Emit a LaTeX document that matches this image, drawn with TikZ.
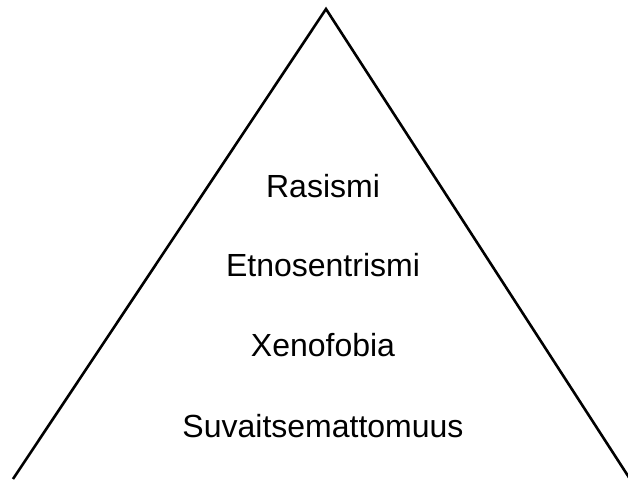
\documentclass[tikz,border=0pt]{standalone}
\usepackage{fontspec}
\setmainfont{Liberation Sans}
\tikzset{
  level/.style={anchor=base,font=\fontsize{32}{38}\selectfont,inner sep=0pt},
  side/.style={line width=2.6pt}
}
\begin{document}
\begin{tikzpicture}[x=1pt,y=-1pt]
  \useasboundingbox (0,0) rectangle (628,479);
  \coordinate (top) at (326,9);
  \coordinate (bl) at (13,479);
  \coordinate (br) at (630,479);

  \draw[side] (bl) -- (top) -- (br);

  \node[level] (rasismi) at (323,197) {Rasismi};
  \node[level] (etno) at (323,276) {Etnosentrismi};
  \node[level] (xeno) at (323,356) {Xenofobia};
  \node[level] (suvait) at (323,437) {Suvaitsemattomuus};
\end{tikzpicture}
\end{document}
